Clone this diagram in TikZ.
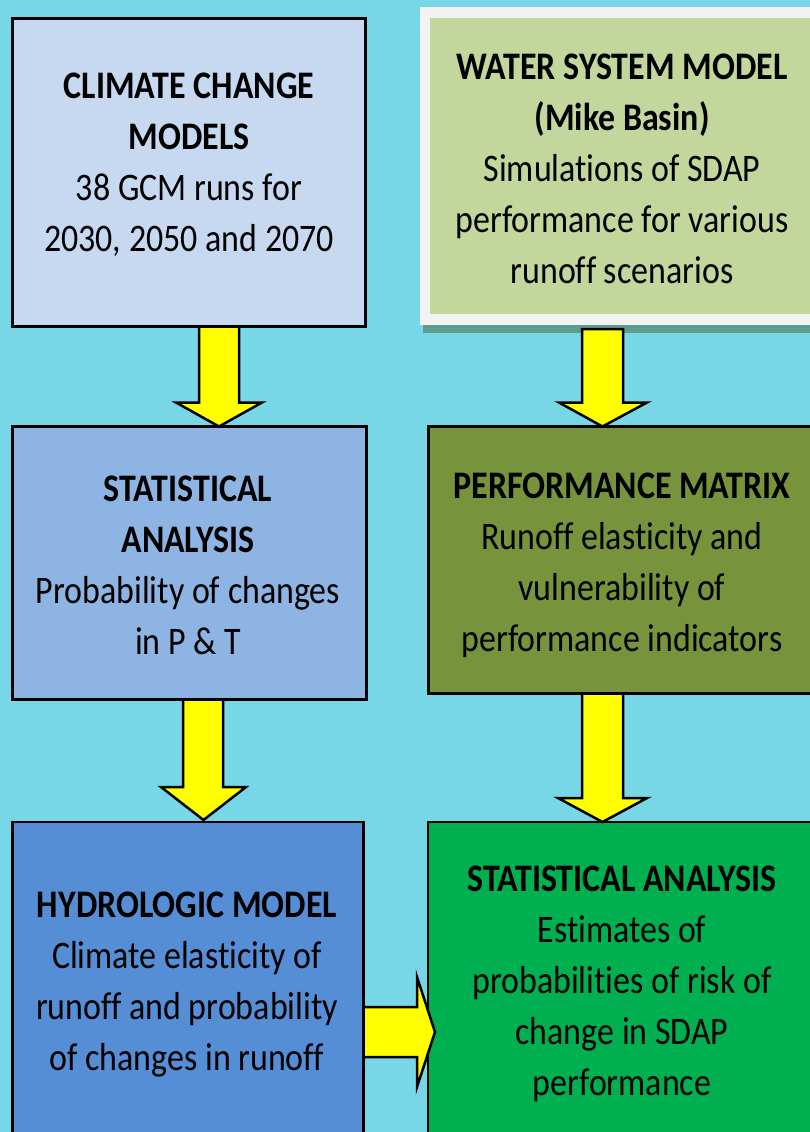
\documentclass[tikz,border=0pt]{standalone}
\usepackage{fontspec}
\setmainfont{Carlito}[FakeStretch=0.87,RawFeature={-liga}]
\usetikzlibrary{calc}
\definecolor{bg}{HTML}{77D7E6}
\definecolor{cA}{HTML}{C6D9F1}
\definecolor{cB}{HTML}{C3D69B}
\definecolor{cBframe}{HTML}{F2F2F2}
\definecolor{cBshadow}{HTML}{5E9C8E}
\definecolor{cC}{HTML}{8EB4E3}
\definecolor{cD}{HTML}{77933C}
\definecolor{cE}{HTML}{558ED5}
\definecolor{cF}{HTML}{00B050}
\definecolor{arrowyellow}{HTML}{FFFF00}
\tikzset{
  box/.style={draw=black, line width=2.8pt, rectangle, inner sep=0pt, outer sep=0pt},
  plainbox/.style={rectangle, inner sep=0pt, outer sep=0pt},
  label/.style={align=center, inner sep=0pt, outer sep=0pt, anchor=base, font=\fontsize{39}{51}\selectfont},
  blockarrow/.style={draw=black, fill=arrowyellow, line width=2.5pt, line join=miter}
}
\begin{document}
\begin{tikzpicture}[x=1pt,y=-1pt]
\clip (0,0) rectangle (810,1132);
\fill[bg] (0,0) rectangle (810,1132);

% boxes
\node[box, fill=cA, minimum width=353pt, minimum height=308pt] (b1) at (189,172.5) {};
\fill[cBshadow] (423,318) rectangle (830,333);
\node[plainbox, fill=cBframe, minimum width=410pt, minimum height=318pt] (b2f) at (625,166) {};
\node[plainbox, fill=cB, minimum width=390pt, minimum height=296pt] (b2) at (625,166) {};
\node[box, fill=cC, minimum width=354pt, minimum height=273pt] (b3) at (189.5,563) {};
\node[box, fill=cD, minimum width=395pt, minimum height=267pt] (b4) at (626,560) {};
\node[box, fill=cE, minimum width=351pt, minimum height=330pt] (b5) at (188,987) {};
\node[box, fill=cF, minimum width=396pt, minimum height=330pt] (b6) at (626,987) {};

% arrows
\draw[blockarrow] let \p1=(b1.south), \p2=(b3.north) in
  (199pt,\y1) -- (239pt,\y1) -- (239pt,\y2+24pt) -- (262pt,\y2+24pt) -- (219pt,\y2)
  -- (176pt,\y2+24pt) -- (199pt,\y2+24pt) -- cycle;
\draw[blockarrow] let \p1=(b2f.south), \p2=(b4.north) in
  (582pt,\y1-4pt) -- (623pt,\y1-4pt) -- (623pt,\y2+24pt) -- (647pt,\y2+24pt) -- (602.5pt,\y2)
  -- (559pt,\y2+24pt) -- (582pt,\y2+24pt) -- cycle;
\draw[blockarrow] let \p1=(b3.south), \p2=(b5.north) in
  (183pt,\y1) -- (223pt,\y1) -- (223pt,\y2+35pt) -- (246pt,\y2+35pt) -- (203.5pt,\y2+2pt)
  -- (161pt,\y2+35pt) -- (183pt,\y2+35pt) -- cycle;
\draw[blockarrow] let \p1=(b4.south), \p2=(b6.north) in
  (582pt,\y1) -- (623pt,\y1) -- (623pt,\y2+24pt) -- (647pt,\y2+24pt) -- (602.5pt,\y2)
  -- (558pt,\y2+24pt) -- (582pt,\y2+24pt) -- cycle;
\draw[blockarrow] let \p1=(b5.east), \p2=(b6.west) in
  (\x1,-1007pt) -- (417pt,-1007pt) -- (417pt,-977pt) -- (\x2+7pt,-1032pt)
  -- (417pt,-1087pt) -- (417pt,-1057pt) -- (\x1,-1057pt) -- cycle;

% texts (anchor = baseline of last line)
\node[label] (t1) at (189,251) {\textbf{CLIMATE CHANGE}\\\textbf{MODELS}\\38 GCM runs for\\2030,\ 2050\ and 2070};
\node[label] (t2) at (622,283) {\textbf{WATER SYSTEM MODEL}\\\textbf{(Mike Basin)}\\Simulations of SDAP\\performance for various\\runoff scenarios};
\node[label] (t3) at (188,654) {\textbf{STATISTICAL}\\\textbf{ANALYSIS}\\Probability of changes\\in P \& T};
\node[label] (t4) at (622,651) {\textbf{PERFORMANCE MATRIX}\\Runoff elasticity and\\vulnerability of\\performance indicators};
\node[label] (t5) at (187,1070) {\textbf{HYDROLOGIC MODEL}\\Climate elasticity of\\runoff and probability\\of changes in runoff};
\node[label] (t6) at (622,1095) {\textbf{STATISTICAL ANALYSIS}\\Estimates of\\probabilities of risk of\\change in SDAP\\performance};
\end{tikzpicture}
\end{document}
